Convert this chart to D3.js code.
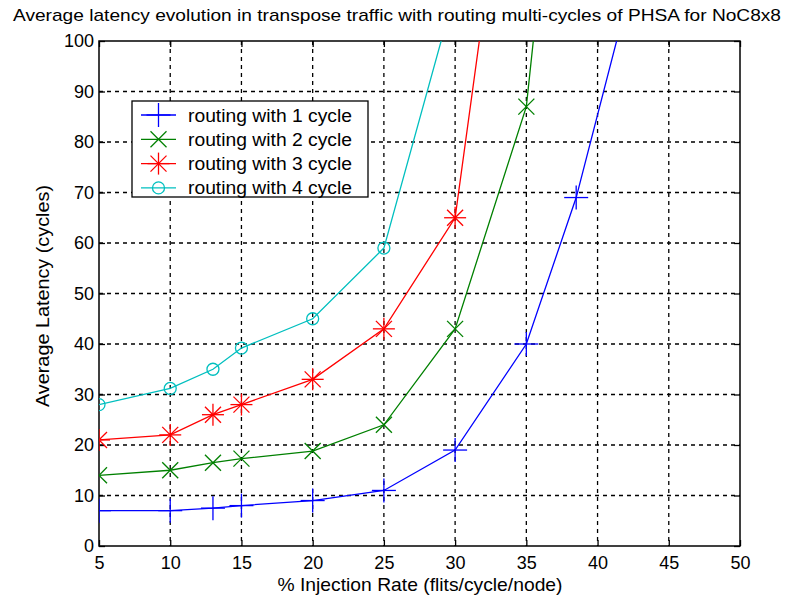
<!DOCTYPE html>
<html><head><meta charset="utf-8">
<script src="https://cdn.jsdelivr.net/npm/d3@7"></script>
<style>body{margin:0;background:#fff;} text{font-family:"Liberation Sans",Arial,sans-serif;}</style>
</head><body><svg id="c" width="786" height="603"></svg>
<script>
const xTicks = [5,10,15,20,25,30,35,40,45,50];
const yTicks = [0,10,20,30,40,50,60,70,80,90,100];
const x1 = [5,10,13,15,20,25,30,35,38.5,45];
const y1 = [7,7,7.5,8,9,11,19,40,69,140];
const x2 = [5,10,13,15,20,25,30,35,40];
const y2 = [14,15,16.5,17.3,18.8,24,43,87,220];
const x3 = [5,10,13,15,20,25,30,35];
const y3 = [21,22,26,28,33,43,65,168];
const x4 = [5,10,13,15,20,25,30];
const y4 = [28,31.2,35,39.2,45,59,110];
const seriesNames = ["routing with 1 cycle","routing with 2 cycle","routing with 3 cycle","routing with 4 cycle"];
const colors = ["#0000ff","#008000","#ff0000","#00bfbf"];
const markers = ["plus","x","star","circle"];

const svg = d3.select("#c");
const L=99, R=740, T=41, B=546;
const x = d3.scaleLinear().domain([5,50]).range([L,R]);
const y = d3.scaleLinear().domain([0,100]).range([B,T]);

svg.append("rect").attr("width",786).attr("height",603).attr("fill","#fff");
svg.append("defs").append("clipPath").attr("id","clip").append("rect")
  .attr("x",L).attr("y",T).attr("width",R-L).attr("height",B-T);

// grid
const g = svg.append("g");
g.selectAll(".vg").data(xTicks.slice(1,-1)).enter().append("line")
  .attr("x1",d=>x(d)).attr("x2",d=>x(d)).attr("y1",T).attr("y2",B)
  .attr("stroke","#000").attr("stroke-width",1.3).attr("stroke-dasharray","4,4");
g.selectAll(".hg").data(yTicks.slice(1,-1)).enter().append("line")
  .attr("y1",d=>y(d)).attr("y2",d=>y(d)).attr("x1",L).attr("x2",R)
  .attr("stroke","#000").attr("stroke-width",1.3).attr("stroke-dasharray","4,4");

// axes
svg.append("g").attr("transform",`translate(0,${B})`)
  .call(d3.axisBottom(x).tickValues(xTicks).tickSize(-6).tickPadding(10));
svg.append("g").attr("transform",`translate(${L},0)`)
  .call(d3.axisLeft(y).tickValues(yTicks).tickSize(-6).tickPadding(5));
svg.append("g").attr("transform",`translate(0,${T})`)
  .call(d3.axisTop(x).tickValues(xTicks).tickSize(-6).tickFormat(""));
svg.append("g").attr("transform",`translate(${R},0)`)
  .call(d3.axisRight(y).tickValues(yTicks).tickSize(-6).tickFormat(""));
svg.selectAll(".domain").remove();
svg.selectAll(".tick line").attr("stroke","#000").attr("stroke-width",1.3);
svg.selectAll(".tick text").attr("font-size",18).attr("fill","#000")
  .style("font-family","'Liberation Sans',Arial,sans-serif");
svg.append("rect").attr("x",L).attr("y",T).attr("width",R-L).attr("height",B-T)
  .attr("fill","none").attr("stroke","#000").attr("stroke-width",1.5);

function drawMarker(sel, type, color, cx, cy){
  const gg = sel.append("g").attr("transform",`translate(${cx},${cy})`)
    .attr("stroke",color).attr("stroke-width",1.3).attr("fill","none");
  if(type==="plus"){
    gg.append("line").attr("x1",-12).attr("x2",12);
    gg.append("line").attr("y1",-12).attr("y2",12);
  } else if(type==="x"){
    gg.append("line").attr("x1",-8).attr("x2",8).attr("y1",-8).attr("y2",8);
    gg.append("line").attr("x1",-8).attr("x2",8).attr("y1",8).attr("y2",-8);
  } else if(type==="star"){
    gg.append("line").attr("x1",-11).attr("x2",11);
    gg.append("line").attr("y1",-11).attr("y2",11);
    gg.append("line").attr("x1",-8).attr("x2",8).attr("y1",-8).attr("y2",8);
    gg.append("line").attr("x1",-8).attr("x2",8).attr("y1",8).attr("y2",-8);
  } else {
    gg.append("circle").attr("r",6);
  }
}

const xs=[x1,x2,x3,x4], ys=[y1,y2,y3,y4];
const plot = svg.append("g").attr("clip-path","url(#clip)");
const line = d3.line().x(d=>x(d[0])).y(d=>y(d[1]));
for(let i=0;i<4;i++){
  const pts = xs[i].map((v,j)=>[v,ys[i][j]]);
  plot.append("path").datum(pts).attr("d",line).attr("fill","none")
    .attr("stroke",colors[i]).attr("stroke-width",1.3);
  pts.forEach(p=>drawMarker(plot, markers[i], colors[i], x(p[0]), y(p[1])));
}

// legend
const lg = svg.append("g");
lg.append("rect").attr("x",132).attr("y",101).attr("width",236).attr("height",96)
  .attr("fill","#fff").attr("stroke","#000").attr("stroke-width",1.3);
seriesNames.forEach((n,i)=>{
  const ly = 115 + i*24.3;
  lg.append("line").attr("x1",141).attr("x2",176).attr("y1",ly).attr("y2",ly)
    .attr("stroke",colors[i]).attr("stroke-width",1.3);
  drawMarker(lg, markers[i], colors[i], 158.5, ly);
  lg.append("text").attr("x",188).attr("y",ly+6.5).attr("font-size",18)
    .attr("textLength",164).attr("lengthAdjust","spacingAndGlyphs").text(n);
});

// labels
svg.append("text").attr("x",397).attr("y",21).attr("text-anchor","middle")
  .attr("font-size",17).attr("textLength",768).attr("lengthAdjust","spacingAndGlyphs")
  .text("Average latency evolution in transpose traffic with routing multi-cycles of PHSA for NoC8x8");
svg.append("text").attr("x",420).attr("y",591).attr("text-anchor","middle")
  .attr("font-size",18.5).attr("textLength",285).attr("lengthAdjust","spacingAndGlyphs")
  .text("% Injection Rate (flits/cycle/node)");
svg.append("text").attr("transform","translate(49,296) rotate(-90)").attr("text-anchor","middle")
  .attr("font-size",18.5).attr("textLength",222).attr("lengthAdjust","spacingAndGlyphs")
  .text("Average Latency (cycles)");
</script></body></html>
